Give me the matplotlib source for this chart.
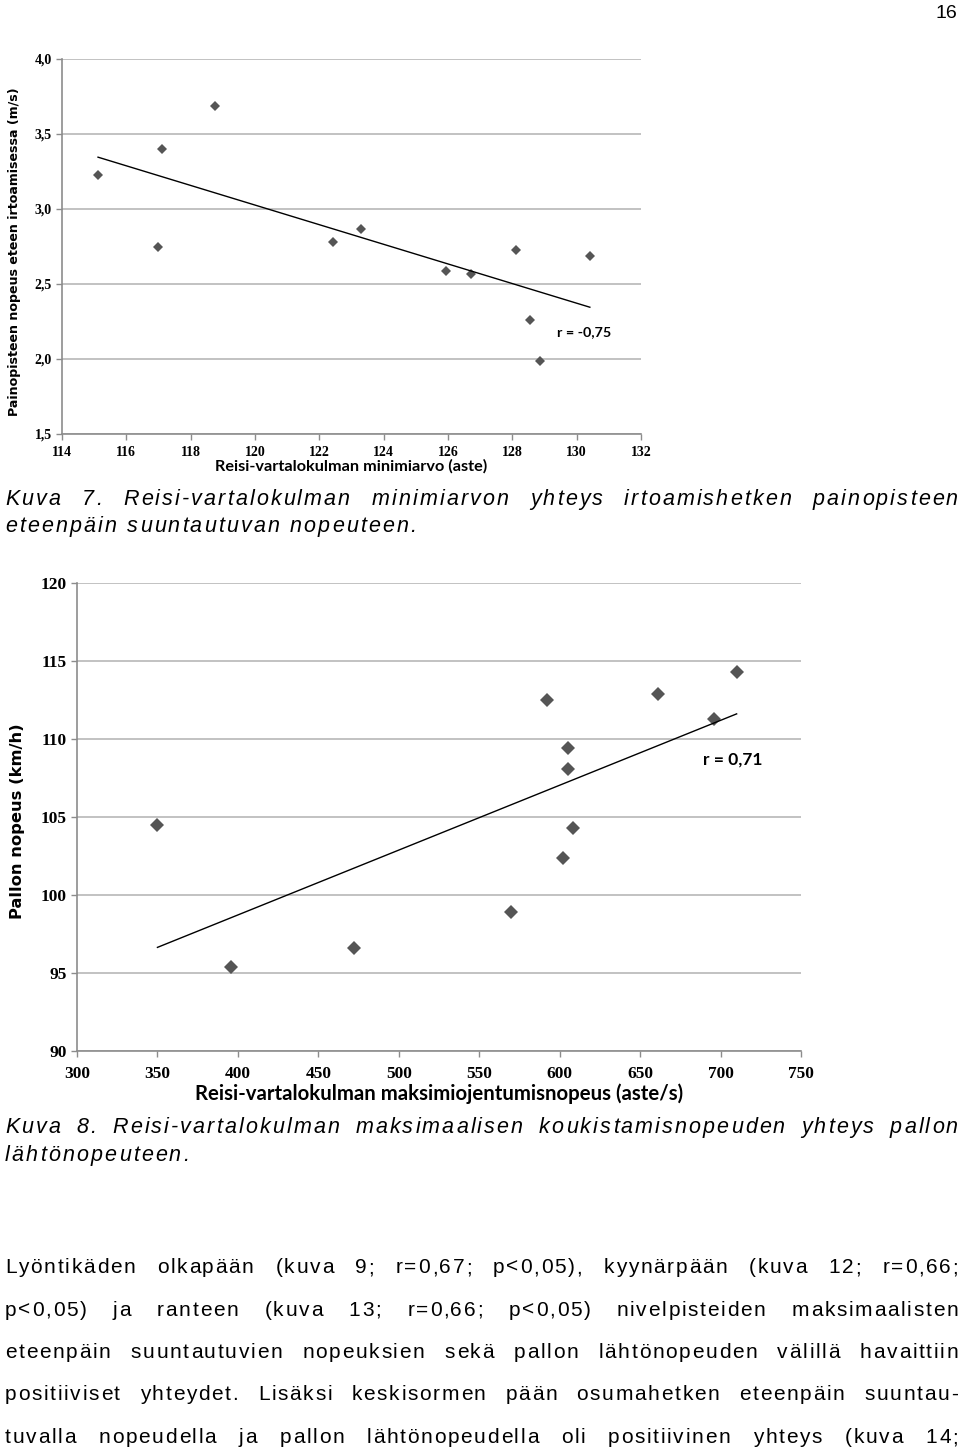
import numpy as np
import matplotlib
matplotlib.use('Agg')
import matplotlib.pyplot as plt
from matplotlib.font_manager import FontProperties

# Kuva 7 data
min_angle = [115.12, 116.98, 117.10, 118.76, 122.42, 123.30,
             125.94, 126.71, 128.11, 128.55, 128.86, 130.41]
cog_speed = [3.23, 2.75, 3.40, 3.69, 2.78, 2.87,
             2.59, 2.57, 2.73, 2.26, 1.99, 2.69]
r_fig7 = "r = -0,75"

# Kuva 8 data
max_ext_speed = [350, 396, 472, 570, 592, 602,
                 605, 605, 608, 661, 696, 710]
ball_speed = [104.5, 95.4, 96.6, 98.9, 112.5, 102.4,
              108.1, 109.4, 104.3, 112.9, 111.3, 114.3]
r_fig8 = "r = 0,71"

caption7 = ["Kuva 7. Reisi-vartalokulman minimiarvon yhteys irtoamishetken painopisteen",
            "eteenpäin suuntautuvan nopeuteen."]
caption8 = ["Kuva 8. Reisi-vartalokulman maksimaalisen koukistamisnopeuden yhteys pallon",
            "lähtönopeuteen."]
body = ["Lyöntikäden olkapään (kuva 9; r=0,67; p<0,05), kyynärpään (kuva 12; r=0,66;",
        "p<0,05) ja ranteen (kuva 13; r=0,66; p<0,05) nivelpisteiden maksimaalisten",
        "eteenpäin suuntautuvien nopeuksien sekä pallon lähtönopeuden välillä havaittiin",
        "positiiviset yhteydet. Lisäksi keskisormen pään osumahetken eteenpäin suuntau-",
        "tuvalla nopeudella ja pallon lähtönopeudella oli positiivinen yhteys (kuva 14;"]

W, H = 960, 1449
fig = plt.figure(figsize=(W / 100, H / 100), dpi=100)
renderer = fig.canvas.get_renderer()

MARK = '#555555'
GRID = '#b8b8b8'
SPINE = '#8c8c8c'
TICK_FAMILY = 'Liberation Serif'


def spaced_line(text, y, size, style='normal', track=1.0, justify=True, x0=5, x1=958):
    # letter-spaced line, justified between x0 and x1 (pixels)
    prop = FontProperties(family='Liberation Sans', style=style, size=size)
    words = text.split(' ')
    widths = []
    for w in words:
        cw = [renderer.get_text_width_height_descent(c, prop, ismath=False)[0] for c in w]
        widths.append(cw)
    totals = [sum(cw) + track * (len(cw) - 1) for cw in widths]
    if justify and len(words) > 1:
        gap = (x1 - x0 - sum(totals)) / (len(words) - 1)
    else:
        gap = renderer.get_text_width_height_descent('n', prop, ismath=False)[0] * 0.5 + 2 * track
    x = x0
    for w, cw, tot in zip(words, widths, totals):
        cx = x
        for c, wc in zip(w, cw):
            fig.text(cx / W, 1 - y / H, c, fontproperties=prop, ha='left', va='baseline')
            cx += wc + track
        x += tot + gap


def style_axes(ax, size, xpad):
    for s in ['top', 'right']:
        ax.spines[s].set_visible(False)
    for s in ['left', 'bottom']:
        ax.spines[s].set_color(SPINE)
        ax.spines[s].set_linewidth(1.2)
    ax.grid(axis='y', color=GRID, linewidth=1.2)
    ax.set_axisbelow(True)
    ax.tick_params(color=SPINE, length=4, width=1, direction='out')
    ax.tick_params(axis='x', pad=xpad)
    for lab in ax.get_xticklabels() + ax.get_yticklabels():
        lab.set_fontfamily(TICK_FAMILY)
        lab.set_fontweight('bold')
        lab.set_fontsize(size)


# ---- Kuva 7 ----
ax1 = fig.add_axes([62 / W, 1 - 434 / H, (641 - 62) / W, (434 - 59) / H])
x7 = np.array(min_angle)
y7 = np.array(cog_speed)
ax1.plot(x7, y7, 'D', color=MARK, markersize=5.5, markeredgewidth=0)
k, b = np.polyfit(x7, y7, 1)
xs = np.array([x7.min(), x7.max()])
ax1.plot(xs, k * xs + b, color='black', linewidth=1)
ax1.set_xlim(114, 132)
ax1.set_ylim(1.5, 4.0)
ax1.set_xticks(np.arange(114, 133, 2))
yt1 = np.arange(1.5, 4.01, 0.5)
ax1.set_yticks(yt1)
ax1.set_yticklabels([f"{v:.1f}".replace('.', ',') for v in yt1])
style_axes(ax1, 10, 5)
ax1.text(129.4, 2.18, r_fig7, fontfamily='Lato', fontweight='bold', fontsize=10.3, va='center')
ax1.set_xlabel("Reisi-vartalokulman minimiarvo (aste)", fontfamily='Lato',
               fontweight='bold', fontsize=11.7, labelpad=0)
ax1.set_ylabel("Painopisteen nopeus eteen irtoamisessa (m/s)", fontfamily='DejaVu Sans',
               fontweight='bold', fontsize=9.1)
ax1.yaxis.set_label_coords((21 - 62) / 579, 0.485)

# ---- Kuva 8 ----
ax2 = fig.add_axes([77 / W, 1 - 1051 / H, (801 - 77) / W, (1051 - 583) / H])
x8 = np.array(max_ext_speed, dtype=float)
y8 = np.array(ball_speed)
ax2.plot(x8, y8, 'D', color=MARK, markersize=7, markeredgewidth=0)
k2, b2 = np.polyfit(x8, y8, 1)
xs2 = np.array([x8.min(), x8.max()])
ax2.plot(xs2, k2 * xs2 + b2, color='black', linewidth=1)
ax2.set_xlim(300, 750)
ax2.set_ylim(90, 120)
ax2.set_xticks(np.arange(300, 751, 50))
ax2.set_yticks(np.arange(90, 121, 5))
style_axes(ax2, 12.5, 7)
ax2.text(689, 108.7, r_fig8, fontfamily='Lato', fontweight='bold', fontsize=12.5, va='center')
ax2.set_xlabel("Reisi-vartalokulman maksimiojentumisnopeus (aste/s)", fontfamily='Lato',
               fontweight='bold', fontsize=14.7, labelpad=1)
ax2.set_ylabel("Pallon nopeus (km/h)", fontfamily='DejaVu Sans',
               fontweight='bold', fontsize=11.8)
ax2.yaxis.set_label_coords((25 - 77) / 724, 0.49)

# ---- page text ----
fig.text(957 / W, 1 - 18 / H, "16", fontfamily='Liberation Sans', fontsize=14,
         ha='right', va='baseline')
spaced_line(caption7[0], 505, 15.5, style='italic', track=2.1)
spaced_line(caption7[1], 532, 15.5, style='italic', track=2.1, justify=False)
spaced_line(caption8[0], 1133, 15.5, style='italic', track=2.1)
spaced_line(caption8[1], 1161, 15.5, style='italic', track=2.1, justify=False)
for line, yb in zip(body, [1273, 1316, 1358, 1400, 1443]):
    spaced_line(line, yb, 15, track=1.7)

fig.savefig("out.png", dpi=100)
